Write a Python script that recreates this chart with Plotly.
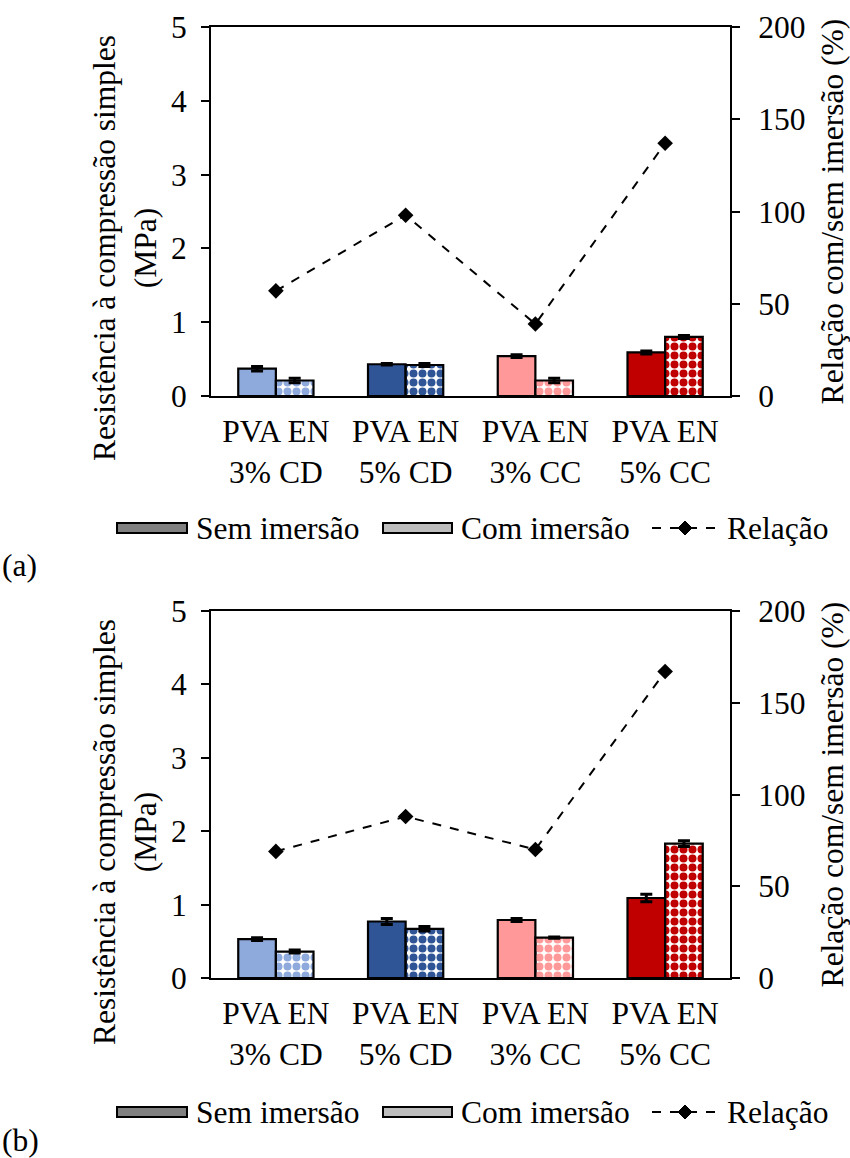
import plotly.graph_objects as go

# ---------------- data ----------------
categories = ["PVA EN<br>3% CD", "PVA EN<br>5% CD", "PVA EN<br>3% CC", "PVA EN<br>5% CC"]
colors = ["#8EA9DB", "#2F5597", "#FF9999", "#C00000"]

a_sem = [0.37, 0.43, 0.54, 0.59]
a_sem_err = [0.03, 0.01, 0.02, 0.02]
a_com = [0.21, 0.42, 0.21, 0.80]
a_com_err = [0.03, 0.02, 0.03, 0.02]
a_rel = [57, 98, 39, 137]

b_sem = [0.53, 0.77, 0.79, 1.09]
b_sem_err = [0.02, 0.04, 0.02, 0.05]
b_com = [0.36, 0.67, 0.55, 1.83]
b_com_err = [0.02, 0.03, 0.01, 0.04]
b_rel = [69, 88, 70, 167]

left_ticks = [0, 1, 2, 3, 4, 5]
right_ticks = [0, 50, 100, 150, 200]
legend_labels = ["Sem imersão", "Com imersão", "Relação"]
left_title = "Resistência à compressão simples<br>(MPa)"
right_title = "Relação com/sem imersão (%)"

W, H = 850, 1158
L, R = 211, 730          # plot-area left/right edges (px)
PW = R - L
FONT = "Liberation Serif"
FS = 31.5


def px(x):
    return (x - L) / PW


def py(y):
    return 1 - y / H


fig = go.Figure()

panels = [
    dict(sem=a_sem, sem_err=a_sem_err, com=a_com, com_err=a_com_err, rel=a_rel,
         xa="x", ya="y", ya2="y2"),
    dict(sem=b_sem, sem_err=b_sem_err, com=b_com, com_err=b_com_err, rel=b_rel,
         xa="x2", ya="y3", ya2="y4"),
]

for p in panels:
    fig.add_trace(go.Bar(
        x=categories, y=p["sem"], xaxis=p["xa"], yaxis=p["ya"],
        marker=dict(color=colors, line=dict(color="black", width=2.2)),
        error_y=dict(type="data", array=p["sem_err"], color="black", thickness=3, width=6),
        showlegend=False, name=legend_labels[0]))
    fig.add_trace(go.Bar(
        x=categories, y=p["com"], xaxis=p["xa"], yaxis=p["ya"],
        marker=dict(color=colors, line=dict(color="black", width=2.2),
                    pattern=dict(shape=".", fgcolor=colors, bgcolor="white",
                                 size=9, solidity=0.62, fillmode="replace")),
        error_y=dict(type="data", array=p["com_err"], color="black", thickness=3, width=6),
        showlegend=False, name=legend_labels[1]))
    fig.add_trace(go.Scatter(
        x=categories, y=p["rel"], xaxis=p["xa"], yaxis=p["ya2"],
        mode="lines+markers",
        line=dict(color="black", width=2, dash="dash"),
        marker=dict(symbol="diamond", size=12, color="black"),
        showlegend=False, name=legend_labels[2]))

ydom_a = [py(396), py(27)]
ydom_b = [py(978), py(611)]

tickfont = dict(family=FONT, size=FS, color="black")

xcommon = dict(domain=[0, 1], showline=True, linecolor="black", linewidth=2,
               mirror=True, ticks="", tickfont=tickfont, showgrid=False,
               ticklabelstandoff=6, automargin=False)
ycommon = dict(range=[0, 5], tickvals=left_ticks, ticks="outside", ticklen=8,
               tickwidth=2, tickcolor="black", showline=True, linecolor="black",
               linewidth=2, showgrid=False, zeroline=False, tickfont=tickfont,
               automargin=False, ticklabelstandoff=8)
y2common = dict(range=[0, 200], tickvals=right_ticks, ticks="outside", ticklen=8,
                tickwidth=2, tickcolor="black", showline=True, linecolor="black",
                linewidth=2, showgrid=False, zeroline=False, tickfont=tickfont,
                side="right", automargin=False, ticklabelstandoff=12,
                title=dict(text=right_title,
                           font=dict(family=FONT, size=FS, color="black"), standoff=16))

fig.update_layout(
    width=W, height=H, autosize=False,
    margin=dict(l=L, r=W - R, t=0, b=0, pad=0, autoexpand=False),
    paper_bgcolor="white", plot_bgcolor="white",
    barmode="group", bargap=0.42, bargroupgap=0,
    font=dict(family=FONT, size=FS, color="black"),
    xaxis=dict(anchor="y", **xcommon),
    yaxis=dict(anchor="x", domain=ydom_a, **ycommon),
    yaxis2=dict(anchor="x", overlaying="y", **y2common),
    xaxis2=dict(anchor="y3", **xcommon),
    yaxis3=dict(anchor="x2", domain=ydom_b, **ycommon),
    yaxis4=dict(anchor="x2", overlaying="y3", **y2common),
)

# ---------------- custom legends & left titles ----------------
shapes = []
annotations = []
for off in (0, 584):
    yc = 528 + off
    shapes.append(dict(type="rect", xref="paper", yref="paper",
                       x0=px(117), x1=px(187), y0=py(yc + 5), y1=py(yc - 5),
                       fillcolor="#808080", line=dict(color="black", width=2)))
    shapes.append(dict(type="rect", xref="paper", yref="paper",
                       x0=px(383), x1=px(452), y0=py(yc + 5), y1=py(yc - 5),
                       fillcolor="#BDBDBD", line=dict(color="black", width=2)))
    shapes.append(dict(type="line", xref="paper", yref="paper",
                       x0=px(652), x1=px(718), y0=py(yc), y1=py(yc),
                       line=dict(color="black", width=2, dash="dash")))
    d = 7
    cx = 685
    shapes.append(dict(type="path", xref="paper", yref="paper",
                       path=f"M {px(cx - d)} {py(yc)} L {px(cx)} {py(yc - d)} "
                            f"L {px(cx + d)} {py(yc)} L {px(cx)} {py(yc + d)} Z",
                       fillcolor="black", line=dict(color="black", width=1)))
    for xl, txt in ((194, legend_labels[0]), (459, legend_labels[1]), (725, legend_labels[2])):
        annotations.append(dict(x=px(xl), y=py(yc), xref="paper", yref="paper",
                                text=txt, showarrow=False, xanchor="left", yanchor="middle",
                                font=dict(family=FONT, size=FS, color="black")))
    # left axis title
    annotations.append(dict(x=px(125), y=py(248 + off), xref="paper", yref="paper",
                            text=left_title, textangle=-90, showarrow=False,
                            xanchor="center", yanchor="middle",
                            font=dict(family=FONT, size=FS, color="black")))

annotations.append(dict(x=px(0), y=py(565), xref="paper", yref="paper", text="(a)",
                        showarrow=False, xanchor="left", yanchor="middle",
                        font=dict(family=FONT, size=FS, color="black")))
annotations.append(dict(x=px(0), y=py(1140), xref="paper", yref="paper", text="(b)",
                        showarrow=False, xanchor="left", yanchor="middle",
                        font=dict(family=FONT, size=FS, color="black")))

fig.update_layout(shapes=shapes, annotations=annotations)

fig.write_html("out.html")
